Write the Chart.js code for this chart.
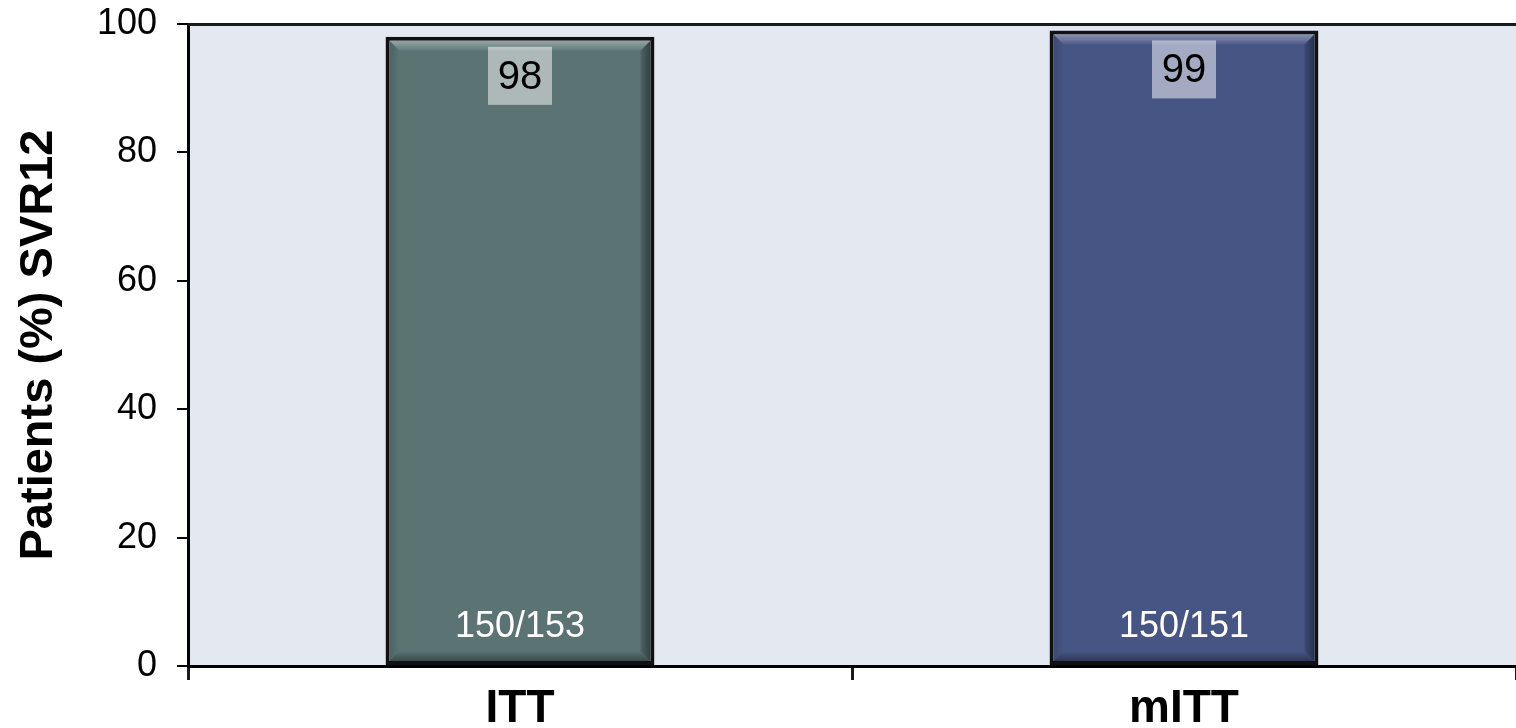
<!DOCTYPE html>
<html>
<head>
<meta charset="utf-8">
<script src="https://cdn.jsdelivr.net/npm/chart.js@4.4.1/dist/chart.umd.min.js"></script>
<style>
  html, body { margin: 0; padding: 0; background: #ffffff; }
  #wrap { width: 1516px; height: 728px; }
</style>
</head>
<body>
<div id="wrap"><canvas id="chart" width="1516" height="728"></canvas></div>
<script>
// Study populations and SVR12 results
const categories = ['ITT', 'mITT'];
const svr12Percent = [98, 99];
const responders = [150, 150];
const patientsTotal = [153, 151];
const yTicks = [0, 20, 40, 60, 80, 100];

const barColors = ['#5b7373', '#475585'];
const FONT = '"Liberation Sans", Arial, Helvetica, sans-serif';

// Plot-area background and top frame line
const frame = {
  id: 'frame',
  beforeDraw(chart) {
    const { ctx, chartArea: a } = chart;
    ctx.save();
    ctx.fillStyle = '#e4e8f0';
    ctx.fillRect(a.left, a.top, a.right - a.left, a.bottom - a.top);
    ctx.restore();
  },
  afterDraw(chart) {
    const { ctx, chartArea: a } = chart;
    ctx.save();
    ctx.strokeStyle = '#1a1a1a';
    ctx.lineWidth = 3;
    ctx.beginPath();
    ctx.moveTo(a.left, a.top + 0.5);
    ctx.lineTo(a.right, a.top + 0.5);
    ctx.stroke();
    ctx.restore();
  }
};

// Bevelled look on each bar, plus value and n/N labels
const bevelLabels = {
  id: 'bevelLabels',
  afterDatasetsDraw(chart) {
    const { ctx } = chart;
    const meta = chart.getDatasetMeta(0);
    meta.data.forEach((bar, i) => {
      const p = bar.getProps(['x', 'y', 'base', 'width'], true);
      const bw = 4;
      const l = p.x - p.width / 2 + bw, r = p.x + p.width / 2 - bw;
      const t = p.y + bw, b = p.base - bw;
      const band = 10;
      ctx.save();
      // top highlight
      let g = ctx.createLinearGradient(0, t, 0, t + band);
      g.addColorStop(0, 'rgba(255,255,255,0.35)');
      g.addColorStop(1, 'rgba(255,255,255,0.05)');
      ctx.fillStyle = g;
      ctx.beginPath();
      ctx.moveTo(l, t); ctx.lineTo(r, t); ctx.lineTo(r - band, t + band); ctx.lineTo(l + band, t + band); ctx.closePath();
      ctx.fill();
      // right shadow
      g = ctx.createLinearGradient(r - band - 4, 0, r, 0);
      g.addColorStop(0, 'rgba(0,0,0,0)');
      g.addColorStop(1, 'rgba(0,0,0,0.45)');
      ctx.fillStyle = g;
      ctx.beginPath();
      ctx.moveTo(r, t); ctx.lineTo(r, b); ctx.lineTo(r - band, b - band); ctx.lineTo(r - band, t + band); ctx.closePath();
      ctx.fill();
      // bottom shadow
      g = ctx.createLinearGradient(0, b - band, 0, b);
      g.addColorStop(0, 'rgba(0,0,0,0)');
      g.addColorStop(1, 'rgba(0,0,0,0.35)');
      ctx.fillStyle = g;
      ctx.beginPath();
      ctx.moveTo(l, b); ctx.lineTo(r, b); ctx.lineTo(r - band, b - band); ctx.lineTo(l + band, b - band); ctx.closePath();
      ctx.fill();
      // left soft edge
      g = ctx.createLinearGradient(l, 0, l + band, 0);
      g.addColorStop(0, 'rgba(0,0,0,0.15)');
      g.addColorStop(1, 'rgba(0,0,0,0)');
      ctx.fillStyle = g;
      ctx.beginPath();
      ctx.moveTo(l, t); ctx.lineTo(l + band, t + band); ctx.lineTo(l + band, b - band); ctx.lineTo(l, b); ctx.closePath();
      ctx.fill();

      // value box
      const boxW = 64, boxH = 58;
      const boxTop = p.y + 10;
      ctx.fillStyle = 'rgba(255,255,255,0.5)';
      ctx.fillRect(p.x - boxW / 2, boxTop, boxW, boxH);
      ctx.fillStyle = '#000000';
      ctx.font = '40px ' + FONT;
      ctx.textAlign = 'center';
      ctx.textBaseline = 'middle';
      ctx.fillText(String(svr12Percent[i]), p.x, boxTop + boxH / 2 + 2);

      // n/N label near bar base
      ctx.fillStyle = '#ffffff';
      ctx.font = '36px ' + FONT;
      ctx.fillText(responders[i] + '/' + patientsTotal[i], p.x, p.base - 38);
      ctx.restore();
    });
  }
};

new Chart(document.getElementById('chart'), {
  type: 'bar',
  data: {
    labels: categories,
    datasets: [{
      data: svr12Percent,
      backgroundColor: barColors,
      borderColor: '#111111',
      borderWidth: 4,
      borderSkipped: false,
      categoryPercentage: 1,
      barPercentage: 0.405
    }]
  },
  options: {
    responsive: false,
    animation: false,
    devicePixelRatio: 1,
    layout: { padding: { top: 24, right: 0, left: 0, bottom: 0 } },
    plugins: { legend: { display: false }, tooltip: { enabled: false } },
    scales: {
      x: {
        grid: { offset: true, drawOnChartArea: false, tickLength: 14, color: '#1a1a1a', lineWidth: 3 },
        border: { display: true, color: '#000000', width: 3 },
        ticks: { color: '#000000', font: { family: FONT, size: 46, weight: 'bold' }, padding: 2, maxRotation: 0 },
        afterFit(scale) { scale.height = 62; scale.paddingLeft = 0; scale.paddingRight = 0; }
      },
      y: {
        min: 0,
        max: 100,
        afterBuildTicks(scale) { scale.ticks = yTicks.map(v => ({ value: v })); },
        grid: { drawOnChartArea: false, tickLength: 11, color: '#000000', lineWidth: 2 },
        border: { display: true, color: '#000000', width: 3 },
        ticks: { color: '#000000', font: { family: FONT, size: 36 }, padding: 20 },
        title: {
          display: true,
          text: 'Patients (%) SVR12',
          color: '#000000',
          font: { family: FONT, size: 47, weight: 'bold' },
          padding: { top: 11, bottom: 0 }
        },
        afterFit(scale) { scale.width = 188; scale.paddingTop = 0; scale.paddingBottom = 0; }
      }
    }
  },
  plugins: [frame, bevelLabels]
});
</script>
</body>
</html>
